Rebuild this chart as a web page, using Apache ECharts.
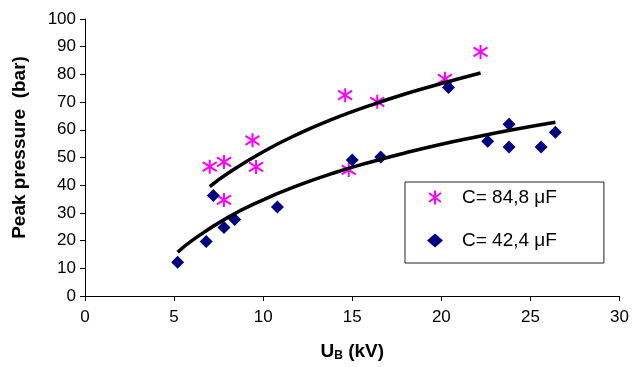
<!DOCTYPE html>
<html>
<head>
<meta charset="utf-8">
<script src="https://cdn.jsdelivr.net/npm/echarts@6/dist/echarts.min.js"></script>
<style>
  html, body { margin: 0; padding: 0; background: #fff; }
  #chart { width: 632px; height: 367px; }
</style>
</head>
<body>
<div id="chart"></div>
<script>
// measured points, C = 84,8 uF
var voltage848 = [7.0, 7.8, 7.8, 9.4, 9.6, 14.6, 14.8, 16.4, 20.2, 22.2];
var pressure848 = [46.7, 48.4, 34.7, 56.2, 46.6, 72.5, 45.5, 70.1, 78.4, 88.1];

// measured points, C = 42,4 uF
var voltage424 = [5.2, 6.8, 7.2, 7.8, 8.4, 10.8, 15.0, 16.6, 20.4, 22.6, 23.8, 23.8, 25.6, 26.4];
var pressure424 = [12.2, 19.7, 36.3, 24.7, 27.6, 32.1, 49.1, 50.2, 75.3, 55.9, 62.0, 53.8, 53.8, 59.1];

// trend curves
var trendX848 = [7, 8, 10, 12, 14, 16, 18, 20, 22.2];
var trendY848 = [39.5, 44.2, 52.1, 58.6, 64.1, 68.8, 73.0, 76.7, 80.5];
var trendX424 = [5.2, 6, 8, 10, 12, 14, 16, 18, 20, 22, 24, 26.4];
var trendY424 = [15.8, 20.0, 28.3, 34.7, 40.0, 44.5, 48.3, 51.7, 54.8, 57.5, 60.0, 62.7];

var legendNames = ['C= 84,8 μF', 'C= 42,4 μF'];

function pairs(xs, ys) {
  return xs.map(function (x, i) { return [x, ys[i]]; });
}

var chart = echarts.init(document.getElementById('chart'));
var font = 'Liberation Sans, Arial, sans-serif';
var starPath = 'path://M7,0L7,14M1,2.5L13,11.5M1,11.5L13,2.5';

chart.setOption({
  backgroundColor: '#fff',
  animation: false,
  textStyle: { fontFamily: font },
  grid: { left: 85, right: 11, top: 19, bottom: 67 },
  legend: {
    data: legendNames,
    orient: 'vertical',
    left: 405,
    top: 182,
    padding: [6, 47, 13, 22],
    itemGap: 24,
    itemWidth: 16,
    itemHeight: 14,
    borderColor: '#222',
    borderWidth: 1,
    textStyle: { fontFamily: font, fontSize: 19, color: '#000', padding: [0, 0, 0, 14] }
  },
  xAxis: {
    type: 'value',
    min: 0,
    max: 30,
    interval: 5,
    name: '{u|U}{sub|B}{u| (kV)}',
    nameLocation: 'middle',
    nameGap: 46,
    nameTextStyle: {
      rich: {
        u: { fontFamily: font, fontSize: 19, fontWeight: 'bold', color: '#000' },
        sub: { fontFamily: font, fontSize: 12, fontWeight: 'bold', color: '#000', padding: [8, 0, 0, 0] }
      }
    },
    axisLine: { lineStyle: { color: '#000', width: 1 } },
    axisTick: { length: 5, lineStyle: { color: '#000' } },
    axisLabel: { fontSize: 17, color: '#000', margin: 13 },
    splitLine: { show: false }
  },
  yAxis: {
    type: 'value',
    min: 0,
    max: 100,
    interval: 10,
    name: 'Peak pressure  (bar)',
    nameLocation: 'middle',
    nameGap: 56,
    nameTextStyle: { fontSize: 19, fontWeight: 'bold', color: '#000', padding: [0, 0, 0, 20] },
    axisLine: { show: true, lineStyle: { color: '#000', width: 1 } },
    axisTick: { show: true, length: 5, lineStyle: { color: '#000' } },
    axisLabel: { fontSize: 17, color: '#000', margin: 9 },
    splitLine: { show: false }
  },
  series: [
    {
      name: legendNames[0],
      type: 'scatter',
      symbol: starPath,
      symbolSize: 14,
      itemStyle: { color: '#ff00ff', borderColor: '#ff00ff', borderWidth: 2, opacity: 1 },
      data: pairs(voltage848, pressure848),
      z: 2
    },
    {
      name: legendNames[1],
      type: 'scatter',
      symbol: 'diamond',
      symbolSize: 13,
      itemStyle: { color: '#000080', opacity: 1 },
      data: pairs(voltage424, pressure424),
      z: 2
    },
    {
      name: 'trend 84,8',
      type: 'line',
      smooth: true,
      showSymbol: false,
      lineStyle: { color: '#000', width: 3.5 },
      data: pairs(trendX848, trendY848),
      z: 3
    },
    {
      name: 'trend 42,4',
      type: 'line',
      smooth: true,
      showSymbol: false,
      lineStyle: { color: '#000', width: 3.5 },
      data: pairs(trendX424, trendY424),
      z: 3
    }
  ]
});
</script>
</body>
</html>
